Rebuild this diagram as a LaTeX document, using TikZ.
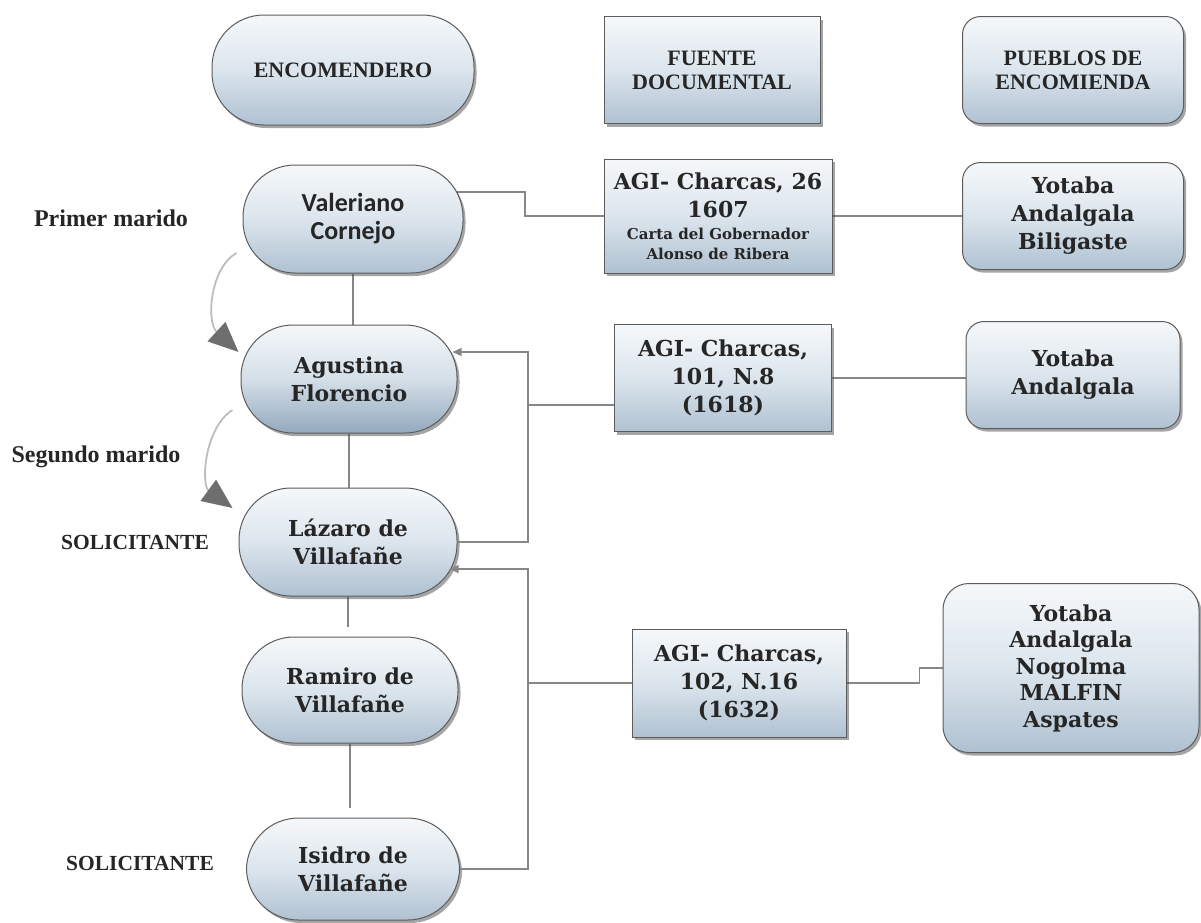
\documentclass[tikz,border=0pt]{standalone}
\usepackage{fontspec}
\setmainfont{Liberation Serif}
\newfontfamily\georg{DejaVu Serif}
\newfontfamily\calib{Carlito}
\usetikzlibrary{shadows,arrows.meta,backgrounds,calc}

\definecolor{topc}{HTML}{F5F8FA}
\definecolor{midc}{HTML}{DCE5ED}
\definecolor{botc}{HTML}{AFC1D1}
\definecolor{botd}{HTML}{93A9BD}
\definecolor{edge}{HTML}{5C5C5C}
\definecolor{ink}{HTML}{262626}
\definecolor{wire}{HTML}{878787}
\definecolor{curvc}{HTML}{BDBDBD}
\definecolor{tipc}{HTML}{6E6E6E}

\tikzset{
  base/.style={draw=edge, line width=1pt, top color=topc, bottom color=botc,
    middle color=midc, text=ink, align=center, inner sep=0pt,
    drop shadow={shadow xshift=2.5pt, shadow yshift=-3pt, opacity=0.5, fill=black!70}},
  pill/.style={base, rounded corners=52pt},
  pilldark/.style={pill, top color=topc, bottom color=botd, middle color=midc!90!botd},
  boxrect/.style={base},
  roundbox/.style={base, rounded corners=18pt},
  titlef/.style={font=\bfseries\fontsize{22}{24}\selectfont},
  namef/.style={font=\georg\bfseries\fontsize{22}{28}\selectfont},
  calf/.style={font=\calib\bfseries\fontsize{26}{28}\selectfont},
  lab/.style={text=ink, font=\bfseries\fontsize{24}{28}\selectfont, inner sep=0pt},
  labcap/.style={text=ink, font=\bfseries\fontsize{21.5}{26}\selectfont, inner sep=0pt},
  wire/.style={draw=wire, line width=1.2pt},
  wirearrow/.style={wire, -{Triangle[length=9pt,width=8pt]}},
  curv/.style={draw=curvc, line width=1.8pt, -{Triangle[length=30pt,width=26pt,color=tipc]}}
}

\begin{document}
\begin{tikzpicture}[x=1pt,y=-1pt]
\useasboundingbox (0,0) rectangle (1201,922);

% header row
\node[pill, titlef, minimum width=262pt, minimum height=110pt] (enc) at (343,70) {ENCOMENDERO};
\node[boxrect, titlef, minimum width=216pt, minimum height=107pt] (fue) at (712,70) {FUENTE\\DOCUMENTAL};
\node[roundbox, titlef, minimum width=221pt, minimum height=107pt] (pue) at (1073,70) {PUEBLOS DE\\ENCOMIENDA};

% encomenderos
\node[pill, calf, minimum width=220pt, minimum height=108pt] (val) at (353,219) {Valeriano\\Cornejo};
\node[pilldark, namef, minimum width=216pt, minimum height=108pt] (agu) at (349,379) {Agustina\\Florencio};
\node[pill, namef, minimum width=218pt, minimum height=108pt] (laz) at (348,542) {Lázaro de\\Villafañe};
\node[pill, namef, minimum width=216pt, minimum height=106pt] (ram) at (350,690) {Ramiro de\\Villafañe};
\node[pill, namef, minimum width=213pt, minimum height=102pt] (isi) at (353,869) {Isidro de\\Villafañe};

% fuentes
\node[boxrect, namef, minimum width=228pt, minimum height=114pt] (agi26) at (718,216)
  {AGI- Charcas, 26\\1607\\[-6pt]\fontsize{15}{20}\selectfont Carta del Gobernador\\[-8pt]\fontsize{15}{20}\selectfont Alonso de Ribera};
\node[boxrect, namef, minimum width=217pt, minimum height=107pt] (agi101) at (723,378) {AGI- Charcas,\\101, N.8\\(1618)};
\node[boxrect, namef, minimum width=214pt, minimum height=108pt] (agi102) at (739,683) {AGI- Charcas,\\102, N.16\\(1632)};

% pueblos
\node[roundbox, namef, minimum width=221pt, minimum height=107pt] (yot1) at (1073,216) {Yotaba\\Andalgala\\Biligaste};
\node[roundbox, namef, minimum width=214pt, minimum height=107pt] (yot2) at (1073,375) {Yotaba\\Andalgala};
\node[roundbox, rounded corners=26pt, font=\georg\bfseries\fontsize{22}{26.5}\selectfont, minimum width=256pt, minimum height=169pt] (big) at (1071,668)
  {Yotaba\\Andalgala\\Nogolma\\MALFIN\\Aspates};

% side labels
\node[lab] (l1) at (111,218) {Primer marido};
\node[lab] (l2) at (96,457) {Segundo marido};
\node[labcap] (l3) at (135,542) {SOLICITANTE};
\node[labcap] (l4) at (140,863) {SOLICITANTE};

% bus coordinates
\coordinate (v1) at (525,192);
\coordinate (b1) at (528,352);
\coordinate (b1m) at (528,405);
\coordinate (b2) at (528,569);
\coordinate (b2m) at (528,683);

\begin{scope}[on background layer]
  \fill[white] (0,0) rectangle (1201,922);
  \draw[wire] (v1 -| val.center) -- (v1) |- (agi26.west);
  \draw[wire] (agi26.east) -- (yot1.west);
  \draw[wire] (agi101.east) -- (agi101.east -| yot2.west);
  \draw[wire] (b1m) -- (b1m -| agi101.west);
  \draw[wire] (b2m) -- (agi102.west);
  \draw[wire] (agi102.east) -- ++(73,0) |- (big.west);
  \draw[wire] (val.south) -- (val.south |- agu.north);
  \draw[wire] (agu.south) -- (agu.south |- laz.north);
  \draw[wire] (laz.south) -- ($(laz.south |- ram.north)+(0,-10)$);
  \draw[wire] (ram.south) -- ($(ram.south |- isi.north)+(0,-10)$);
\end{scope}

\draw[wirearrow] (laz.east) -| (b1) -- ($(b1 -| agu.east)+(-5,0)$);
\draw[wirearrow] (isi.east) -| (b2) -- ($(b2 -| laz.east)+(-8,0)$);

% curved arrows
\draw[curv] ($(val.west)+(-6,34)$) .. controls (210,268) and (206,322) .. ($(agu.west)+(-2,-27)$);
\draw[curv] ($(agu.west)+(-8,31)$) .. controls (204,428) and (201,485) .. ($(laz.west)+(-6,-34)$);
\end{tikzpicture}
\end{document}
